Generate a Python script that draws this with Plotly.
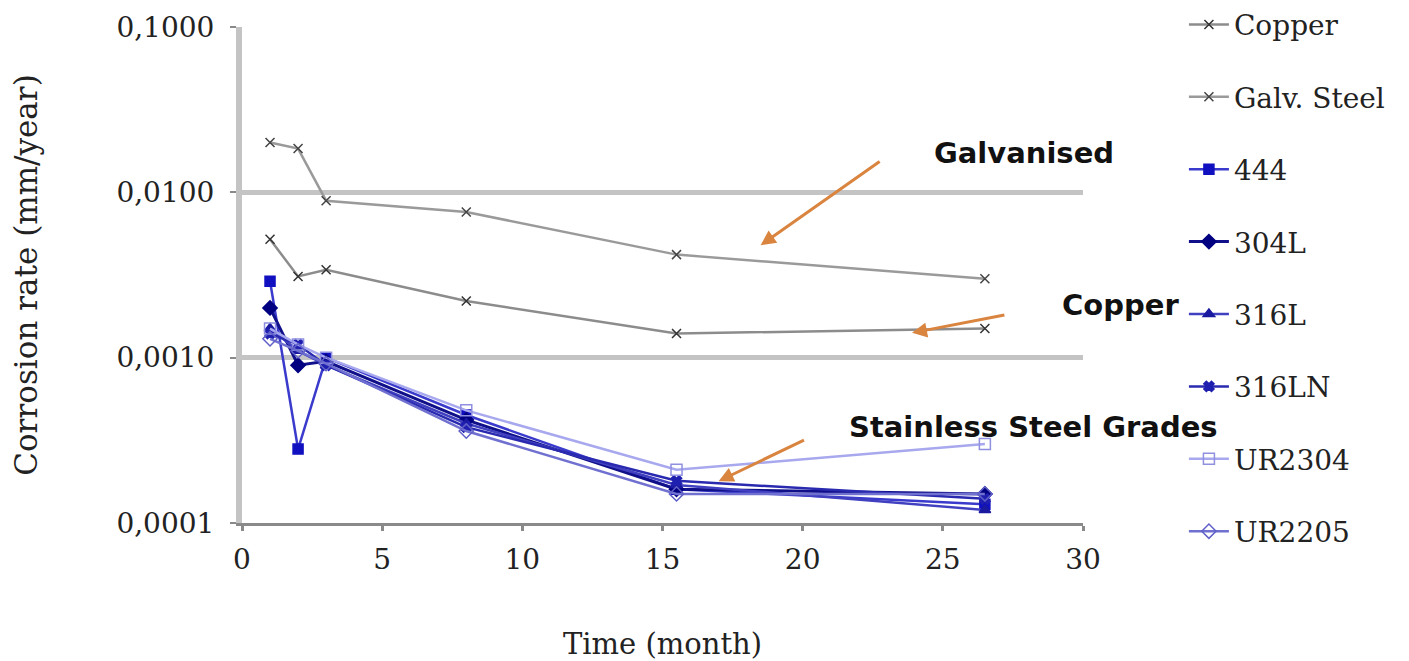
import plotly.graph_objects as go

months = [1, 2, 3, 8, 15.5, 26.5]

copper = [0.0052, 0.0031, 0.0034, 0.0022, 0.0014, 0.0015]
galv_steel = [0.0200, 0.0184, 0.0089, 0.0076, 0.0042, 0.0030]
ss_444 = [0.0029, 0.00028, 0.0010, 0.00045, 0.00016, 0.00013]
ss_304L = [0.0020, 0.00090, 0.00095, 0.00042, 0.00016, 0.00015]
ss_316L = [0.0015, 0.0011, 0.00090, 0.00040, 0.00017, 0.00012]
ss_316LN = [0.0014, 0.0012, 0.00090, 0.00038, 0.00018, 0.00014]
ur2304 = [0.0015, 0.0012, 0.0010, 0.00048, 0.00021, 0.00030]
ur2205 = [0.0013, 0.0011, 0.00092, 0.00036, 0.00015, 0.00015]

y_ticks = [0.0001, 0.001, 0.01, 0.1]
y_tick_text = ["0,0001", "0,0010", "0,0100", "0,1000"]
x_ticks = [0, 5, 10, 15, 20, 25, 30]

series = [
    ("Copper", copper, "#8c8c8c", "#333333", "x-thin", 9, 2.5),
    ("Galv. Steel", galv_steel, "#9a9a9a", "#444444", "x-thin", 9, 2.5),
    ("444", ss_444, "#3a3acc", "#1010c0", "square", 10, 2.5),
    ("304L", ss_304L, "#10108a", "#000080", "diamond", 11, 3),
    ("316L", ss_316L, "#4040c0", "#1a1aa0", "triangle-up", 10, 2.5),
    ("316LN", ss_316LN, "#2a2ab0", "#2020b0", "x", 9, 2.5),
    ("UR2304", ur2304, "#a8a8ee", "#9090e0", "square-open", 11, 2.5),
    ("UR2205", ur2205, "#7070d0", "#6060c8", "diamond-open", 11, 2.5),
]

fig = go.Figure()
for i, (name, vals, lc, mc, sym, ms, lw) in enumerate(series):
    fig.add_trace(go.Scatter(
        x=months, y=vals, name=name, mode="lines+markers",
        line=dict(color=lc, width=lw),
        marker=dict(symbol=sym, size=ms, color=mc,
                    line=dict(color=mc, width=1.5)),
        legendgroup=f"g{i}",
    ))

tick_font = dict(family="DejaVu Serif", size=28, color="#222222")
title_font = dict(family="DejaVu Serif", size=29, color="#222222")

fig.update_layout(
    width=1409, height=661,
    margin=dict(l=234, r=334, t=19, b=146, autoexpand=False),
    paper_bgcolor="white", plot_bgcolor="white",
    showlegend=True,
    legend=dict(x=1.12, y=1.055, xanchor="left", yanchor="top",
                font=dict(family="DejaVu Serif", size=28, color="#222222"),
                tracegroupgap=33, itemwidth=40, bgcolor="rgba(0,0,0,0)",
                maxheight=700),
    xaxis=dict(range=[0, 30], tickvals=x_ticks, showgrid=False,
               showline=True, linecolor="#8a8a8a", linewidth=3,
               ticks="outside", tickcolor="#8a8a8a", ticklen=5, tickwidth=3,
               tickfont=tick_font, zeroline=False, automargin=False,
               ticklabelstandoff=4,
               title=dict(text="Time (month)", font=title_font, standoff=60)),
    yaxis=dict(type="log", range=[-4, -1], tickvals=y_ticks, ticktext=y_tick_text,
               showgrid=True, gridcolor="#c4c4c4", gridwidth=5,
               showline=True, linecolor="#c4c4c4", linewidth=6,
               ticks="outside", tickcolor="#8a8a8a", ticklen=6, tickwidth=2,
               tickfont=tick_font, zeroline=False, automargin=False,
               ticklabelstandoff=10,
               title=dict(text="Corrosion rate (mm/year)",
                          font=dict(family="DejaVu Serif", size=31, color="#222222"),
                          standoff=80)),
)

arrow_color = "#d9843f"
arrows = [
    (18.5, -2.32, 22.8, -1.807),
    (23.9, -2.85, 27.25, -2.74),
    (17.0, -3.747, 20.1, -3.494),
]
for (hx, hy, tx, ty) in arrows:
    fig.add_annotation(x=hx, y=hy, ax=tx, ay=ty,
                       xref="x", yref="y", axref="x", ayref="y",
                       text="", showarrow=True, arrowhead=2, arrowsize=1,
                       arrowwidth=3, arrowcolor=arrow_color)

label_font = dict(family="DejaVu Sans", size=29, color="#111111")
fig.add_annotation(x=27.9, y=-1.76, xref="x", yref="y", text="<b>Galvanised</b>",
                   showarrow=False, font=label_font, xanchor="center")
fig.add_annotation(x=28.25, y=-3.42, xref="x", yref="y",
                   text="<b>Stainless Steel Grades</b>",
                   showarrow=False, font=label_font, xanchor="center")
fig.add_annotation(x=1.045, y=0.44, xref="paper", yref="paper", text="<b>Copper</b>",
                   showarrow=False, font=label_font, xanchor="center", yanchor="middle")

fig.write_html("out.html")
